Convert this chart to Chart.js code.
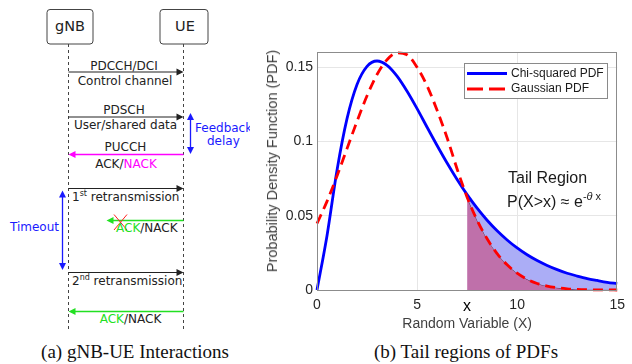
<!DOCTYPE html>
<html>
<head>
<meta charset="utf-8">
<script src="https://cdn.jsdelivr.net/npm/chart.js@4.4.1/dist/chart.umd.min.js"></script>
<style>
  body { margin: 0; width: 632px; height: 364px; background: #fff; position: relative; overflow: hidden; }
  .abs { position: absolute; white-space: nowrap; }
  .cap { font-family: "Liberation Serif", serif; font-size: 19px; line-height: 20px; text-align: center; color: #111; }
  .note { font-family: "Liberation Sans", Arial, sans-serif; font-size: 16px; line-height: 18px; color: #1a1a1a; }
</style>
</head>
<body>

<!-- (a) sequence diagram -->
<svg class="abs" style="left:0;top:0" width="250" height="340" font-family="DejaVu Sans" font-size="12" fill="#222">
  <rect x="47" y="9.5" width="46" height="34.5" rx="3" fill="#fff" stroke="#444"/>
  <rect x="160" y="9.5" width="48" height="34.5" rx="3" fill="#fff" stroke="#444"/>
  <text x="70" y="31" font-size="14.5" text-anchor="middle">gNB</text>
  <text x="185" y="31" font-size="14.5" text-anchor="middle">UE</text>
  <line x1="68.5" y1="44" x2="68.5" y2="330" stroke="#444" stroke-dasharray="3,3"/>
  <line x1="183.5" y1="44" x2="183.5" y2="330" stroke="#444" stroke-dasharray="3,3"/>

  <!-- PDCCH -->
  <line x1="68.5" y1="72" x2="178" y2="72" stroke="#222" stroke-width="1.2"/>
  <polygon points="183.5,72 176.5,68.5 176.5,75.5" fill="#222"/>
  <text x="124" y="70" text-anchor="middle">PDCCH/DCI</text>
  <text x="125" y="85" text-anchor="middle">Control channel</text>

  <!-- PDSCH -->
  <line x1="68.5" y1="117" x2="178" y2="117" stroke="#222" stroke-width="1.2"/>
  <polygon points="183.5,117 176.5,113.5 176.5,120.5" fill="#222"/>
  <text x="124" y="113.5" text-anchor="middle">PDSCH</text>
  <text x="125.5" y="128.5" text-anchor="middle">User/shared data</text>

  <!-- PUCCH -->
  <line x1="183.5" y1="154.5" x2="74" y2="154.5" stroke="#ff00ff" stroke-width="1.5"/>
  <polygon points="68.5,154.5 75.5,151 75.5,158" fill="#ff00ff"/>
  <text x="125.5" y="150.5" text-anchor="middle">PUCCH</text>
  <text x="126" y="168" text-anchor="middle">ACK/<tspan fill="#ff00ff">NACK</tspan></text>

  <!-- feedback delay -->
  <line x1="190.5" y1="118" x2="190.5" y2="149" stroke="#1a1aff" stroke-width="1.3"/>
  <polygon points="190.5,113 187,120 194,120" fill="#1a1aff"/>
  <polygon points="190.5,154 187,147 194,147" fill="#1a1aff"/>
  <text x="195" y="131.5" fill="#1a1aff">Feedback</text>
  <text x="207" y="145" fill="#1a1aff">delay</text>

  <!-- 1st retransmission -->
  <line x1="68.5" y1="188.5" x2="178" y2="188.5" stroke="#222" stroke-width="1.2"/>
  <polygon points="183.5,188.5 176.5,185 176.5,192" fill="#222"/>
  <text x="72" y="201">1<tspan font-size="8" dy="-5">st</tspan><tspan dy="5"> retransmission</tspan></text>

  <!-- timeout -->
  <line x1="62.5" y1="196" x2="62.5" y2="265" stroke="#1a1aff" stroke-width="1.3"/>
  <polygon points="62.5,190.5 59,197.5 66,197.5" fill="#1a1aff"/>
  <polygon points="62.5,270 59,263 66,263" fill="#1a1aff"/>
  <text x="10" y="231" fill="#1a1aff">Timeout</text>

  <!-- lost ACK -->
  <line x1="183.5" y1="220.5" x2="112" y2="220.5" stroke="#22e022" stroke-width="1.5"/>
  <polygon points="106.5,220.5 113.5,217 113.5,224" fill="#22e022"/>
  <line x1="114" y1="214.5" x2="127" y2="230" stroke="#ff2020" stroke-width="1"/>
  <line x1="127" y1="214.5" x2="114" y2="230" stroke="#ff2020" stroke-width="1"/>
  <text x="116" y="232"><tspan fill="#22e022">ACK</tspan>/NACK</text>

  <!-- 2nd retransmission -->
  <line x1="68.5" y1="272.5" x2="178" y2="272.5" stroke="#222" stroke-width="1.2"/>
  <polygon points="183.5,272.5 176.5,269 176.5,276" fill="#222"/>
  <text x="72" y="284.5">2<tspan font-size="8" dy="-5">nd</tspan><tspan dy="5"> retransmission</tspan></text>

  <!-- final ACK -->
  <line x1="183.5" y1="311.5" x2="74" y2="311.5" stroke="#22e022" stroke-width="1.5"/>
  <polygon points="68.5,311.5 75.5,308 75.5,315" fill="#22e022"/>
  <text x="130.5" y="322.5" text-anchor="middle"><tspan fill="#22e022">ACK</tspan>/NACK</text>
</svg>

<!-- (b) chart -->
<div class="abs" style="left:258px;top:40px;width:374px;height:300px"><canvas id="pdfChart"></canvas></div>

<div class="abs" style="left:272px;top:160.5px;transform:translate(-50%,-50%) rotate(-90deg);font-family:'Liberation Sans',Arial,sans-serif;font-size:14.5px;color:#404040">Probability Density Function (PDF)</div>
<div class="abs note" style="left:508px;top:168.5px">Tail Region</div>
<div class="abs note" style="left:507px;top:192.5px">P(X&gt;x) ≈ e<sup style="font-size:11px;vertical-align:7px;line-height:0">-<i>θ</i> x</sup></div>

<div class="abs cap" style="left:0;top:341.5px;width:270px">(a) gNB-UE Interactions</div>
<div class="abs cap" style="left:316px;top:341.5px;width:300px">(b) Tail regions of PDFs</div>

<script>
// values
var xValues = [0, 0.5, 1, 1.5, 2, 2.5, 3, 3.5, 4, 4.5, 5, 5.5, 6, 6.5, 7, 7.5,
  8, 8.5, 9, 9.5, 10, 10.5, 11, 11.5, 12, 12.5, 13, 13.5, 14, 14.5, 15];
var chiPdf = [0, 0.0366, 0.0807, 0.1154, 0.1384, 0.1506, 0.1542, 0.1513, 0.1440, 0.1338,
  0.1221, 0.1096, 0.0973, 0.0855, 0.0744, 0.0642, 0.0551, 0.0470, 0.0399, 0.0337,
  0.0283, 0.0237, 0.0198, 0.0165, 0.0137, 0.0113, 0.0094, 0.0077, 0.0064, 0.0052, 0.0043];
var gaussPdf = [0.0448, 0.0597, 0.0768, 0.0952, 0.1136, 0.1308, 0.1451, 0.1551, 0.1597, 0.1584,
  0.1500, 0.1375, 0.1210, 0.1025, 0.0815, 0.0625, 0.0470, 0.0345, 0.0245, 0.0170,
  0.0113, 0.0072, 0.0044, 0.0026, 0.0015, 0.0008, 0.0004, 0.0002, 0.0001, 0.0001, 0];
var tailStart = 7.5;
var xTicks = [0, 5, 7.5, 10, 15];
var xTickLabels = ["0", "5", "x", "10", "15"];
var yTicks = [0, 0.05, 0.1, 0.15];
var yTickLabels = ["0", "0.05", "0.1", "0.15"];
var legendNames = ["Chi-squared PDF", "Gaussian PDF"];

function points(ys, from) {
  var out = [];
  for (var i = 0; i < xValues.length; i++) {
    if (from === undefined || xValues[i] >= from) out.push({ x: xValues[i], y: ys[i] });
  }
  return out;
}

var sansFont = "'Liberation Sans', Arial, sans-serif";

// plot box + legend drawn like the matlab figure
var boxAndLegend = {
  id: "boxAndLegend",
  afterDatasetsDraw: function(chart) {
    var ctx = chart.ctx, a = chart.chartArea;
    ctx.save();
    ctx.strokeStyle = "#8c8c8c";
    ctx.lineWidth = 1;
    ctx.strokeRect(Math.round(a.left) + 0.5, Math.round(a.top) + 0.5,
      Math.round(a.right - a.left) - 1, Math.round(a.bottom - a.top));
    ctx.restore();
  },
  afterDraw: function(chart) {
    var ctx = chart.ctx, a = chart.chartArea;
    var bx = Math.round(a.right) - 153, by = Math.round(a.top) + 11;
    ctx.save();
    ctx.fillStyle = "#fff";
    ctx.fillRect(bx, by, 143, 35);
    ctx.strokeStyle = "#8a8a8a";
    ctx.lineWidth = 1;
    ctx.strokeRect(bx + 0.5, by + 0.5, 143, 35);
    ctx.font = "12px " + sansFont;
    ctx.textBaseline = "middle";
    legendNames.forEach(function(name, i) {
      var ds = chart.data.datasets.filter(function(d) { return d.label === name; })[0];
      var y = by + 10.5 + i * 15.5;
      ctx.strokeStyle = ds.borderColor;
      ctx.lineWidth = ds.borderWidth;
      ctx.setLineDash(ds.borderDash ? [16, 6] : []);
      ctx.beginPath();
      ctx.moveTo(bx + 3, y);
      ctx.lineTo(bx + 43, y);
      ctx.stroke();
      ctx.setLineDash([]);
      ctx.fillStyle = "#1a1a1a";
      ctx.fillText(name, bx + 47, y);
    });
    ctx.restore();
  }
};

new Chart("pdfChart", {
  type: "line",
  data: {
    datasets: [{
      label: "tailGauss",
      data: points(gaussPdf, tailStart),
      fill: "origin",
      backgroundColor: "#bf70aa",
      borderColor: "#3b1530",
      borderWidth: 0.8,
      pointRadius: 0,
      cubicInterpolationMode: "monotone",
      order: 4
    }, {
      label: "tailChi",
      data: points(chiPdf, tailStart),
      fill: "-1",
      backgroundColor: "#abadf6",
      borderWidth: 0,
      pointRadius: 0,
      cubicInterpolationMode: "monotone",
      order: 3
    }, {
      label: "Chi-squared PDF",
      data: points(chiPdf),
      borderColor: "#0000ff",
      borderWidth: 2.8,
      pointRadius: 0,
      fill: false,
      cubicInterpolationMode: "monotone",
      clip: 4,
      order: 1
    }, {
      label: "Gaussian PDF",
      data: points(gaussPdf),
      borderColor: "#ff0000",
      borderWidth: 2.8,
      borderDash: [10, 6],
      pointRadius: 0,
      fill: false,
      cubicInterpolationMode: "monotone",
      clip: 4,
      order: 0
    }]
  },
  options: {
    responsive: true,
    maintainAspectRatio: false,
    animation: false,
    layout: { padding: { top: 12, right: 10, left: 0, bottom: 0 } },
    plugins: {
      legend: { display: false },
      tooltip: { enabled: false }
    },
    scales: {
      x: {
        type: "linear",
        min: 0,
        max: 15,
        afterBuildTicks: function(scale) {
          scale.ticks = xTicks.map(function(v) { return { value: v }; });
        },
        afterFit: function(scale) { scale.height = 50; },
        border: { display: false },
        grid: {
          drawTicks: false,
          color: function(c) {
            return c.tick && (c.tick.value === 5 || c.tick.value === 10) ? "#e6e6e6" : "rgba(0,0,0,0)";
          }
        },
        ticks: {
          padding: 7,
          maxRotation: 0,
          autoSkip: false,
          color: function(c) { return c.tick && c.tick.value === tailStart ? "#000" : "#262626"; },
          font: function(c) {
            return c.tick && c.tick.value === tailStart ? { family: sansFont, size: 16 } : { family: sansFont, size: 14 };
          },
          callback: function(v, i) { return xTickLabels[i]; }
        },
        title: {
          display: true,
          text: "Random Variable (X)",
          color: "#404040",
          font: { family: sansFont, size: 14 },
          padding: { top: 0, bottom: 7.6 }
        }
      },
      y: {
        min: 0,
        max: 0.16,
        afterBuildTicks: function(scale) {
          scale.ticks = yTicks.map(function(v) { return { value: v }; });
        },
        afterFit: function(scale) { scale.width = 59; },
        border: { display: false },
        grid: {
          drawTicks: false,
          color: function(c) { return c.tick && c.tick.value > 0 ? "#e6e6e6" : "rgba(0,0,0,0)"; }
        },
        ticks: {
          padding: 4,
          color: "#262626",
          font: { family: sansFont, size: 14 },
          callback: function(v, i) { return yTickLabels[i]; }
        }
      }
    }
  },
  plugins: [boxAndLegend]
});
</script>
</body>
</html>
